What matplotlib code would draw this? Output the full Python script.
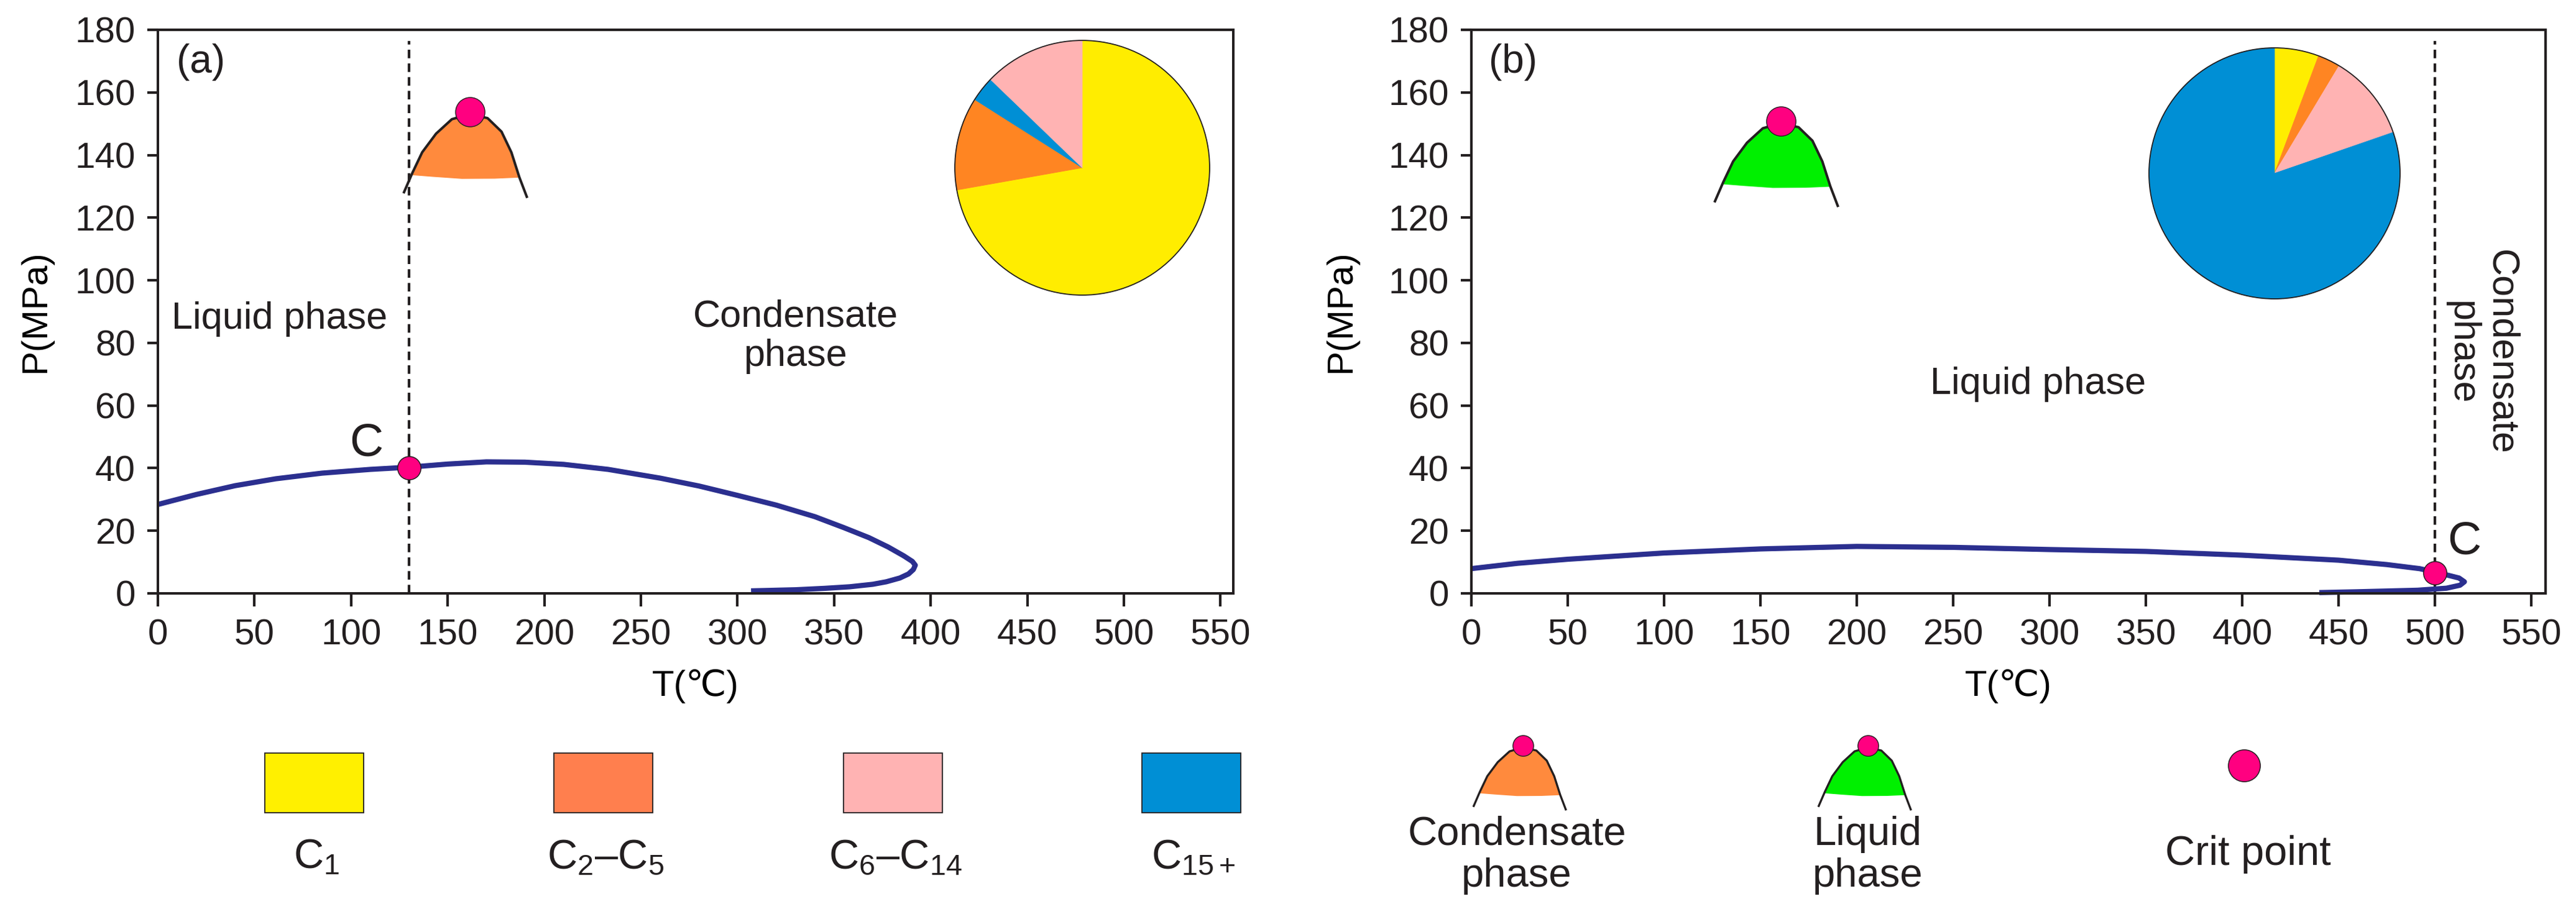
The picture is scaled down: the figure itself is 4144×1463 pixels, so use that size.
import matplotlib.pyplot as plt
import matplotlib.transforms as mtransforms
from matplotlib.patches import Rectangle, Circle

# ---- data ----
# (a) phase envelope, temperature (degC) / pressure (MPa)
T_a = [0, 20, 40, 61, 85, 110, 130, 150, 170, 190, 210, 233, 260, 280, 300, 320,
       340, 355, 368, 378, 386, 390.5, 392, 391, 388.5, 384, 377, 370, 358, 345, 330, 307]
P_a = [28.4, 31.6, 34.4, 36.6, 38.4, 39.6, 40.3, 41.3, 42.0, 41.9, 41.2, 39.6, 36.8, 34.3, 31.3, 28.2,
       24.5, 21.0, 17.8, 14.8, 12.0, 10.2, 9.0, 7.6, 6.2, 4.9, 3.7, 2.9, 2.1, 1.6, 1.15, 0.8]
crit_a = (130, 40)

# (b) phase envelope
T_b = [0, 24, 50, 100, 150, 200, 250, 300, 350, 400, 450, 475, 492, 500, 506.7, 512.5,
       515.3, 513, 506, 491, 459, 440]
P_b = [7.9, 9.6, 10.9, 12.9, 14.2, 15.0, 14.7, 14.0, 13.4, 12.2, 10.6, 9.2, 7.9, 6.8, 5.8, 4.9,
       3.7, 2.6, 1.65, 1.0, 0.5, 0.25]
crit_b = (500, 6.6)

boundary_a = 130
boundary_b = 500
boundary_top = 176.5

components = ['C$_1$', 'C$_2$–C$_5$', 'C$_6$–C$_{14}$', 'C$_{15+}$']
frac_a = [72.2, 11.8, 12.8, 3.2]   # C1, C2-C5, C6-C14, C15+ (%)
frac_b = [5.7, 2.9, 11.1, 80.3]
order_a = [0, 1, 3, 2]             # clockwise from 12 o'clock
order_b = [0, 1, 2, 3]

x_ticks = list(range(0, 551, 50))
y_ticks = list(range(0, 181, 20))

# ---- styles ----
W, H, DPI = 4144, 1463, 100
DARK = '#231F20'
NAVY = '#2B2F8F'
MAGENTA = '#FF0080'
pie_colors = ['#FFED00', '#FF8522', '#FFB3B3', '#008FD5']
swatch_colors = ['#FFF000', '#FF7F4E', '#FFB3B3', '#008FD5']
DOME_ORANGE = '#FF8A3D'
DOME_GREEN = '#00F000'

# dome icon outline, pixel offsets from its apex (y grows downward)
DOME_X = [-106.5, -92.4, -76.5, -54.2, -28.7, 0, 28.7, 51.1, 67.0, 79.8, 92.5]
DOME_Y = [127.6, 95.0, 61.6, 31.6, 8.3, 0, 6.6, 28.3, 61.6, 101.6, 135.0]
FILL_X = [-93.8, -76.5, -54.2, -28.7, 0, 28.7, 51.1, 67.0, 80.1, 40, -12.7, -60]
FILL_Y = [98.3, 61.6, 31.6, 8.3, 0, 6.6, 28.3, 61.6, 102.3, 104, 104.3, 101]

plt.rcParams['font.family'] = ['Liberation Sans', 'DejaVu Sans']
plt.rcParams['mathtext.fontset'] = 'custom'
plt.rcParams['mathtext.rm'] = 'Liberation Sans'
plt.rcParams['mathtext.it'] = 'Liberation Sans:italic'
plt.rcParams['mathtext.bf'] = 'Liberation Sans:bold'
plt.rcParams['text.color'] = DARK


def style_axes(ax, xmax, ylabel_x):
    ax.set_xlim(0, xmax)
    ax.set_ylim(0, 180)
    ax.set_autoscale_on(False)
    ax.set_xticks(x_ticks)
    ax.set_yticks(y_ticks)
    for s in ax.spines.values():
        s.set_linewidth(2.9)
        s.set_color(DARK)
    ax.tick_params(direction='out', width=3, color=DARK, labelsize=42,
                   labelcolor=DARK, pad=14)
    ax.tick_params(axis='x', length=15)
    ax.tick_params(axis='y', length=12)
    ax.set_xlabel('T(℃)', fontsize=42)
    ax.xaxis.set_label_coords(0.5, -0.134)
    ax.set_ylabel('P(MPa)', fontsize=42)
    ax.yaxis.set_label_coords(ylabel_x, 0.5)


def place(ax, anchor, scale):
    x0, y0 = ax.transData.transform(anchor)
    return mtransforms.Affine2D().scale(scale, -scale).translate(x0, y0)


def draw_dome(ax, apex, scale, color, lw, ms):
    tr = place(ax, apex, scale)
    ax.fill(FILL_X, FILL_Y, color=color, lw=0, transform=tr, zorder=3)
    ax.plot(DOME_X, DOME_Y, color=DARK, lw=lw, transform=tr, zorder=4,
            solid_joinstyle='round', solid_capstyle='butt')
    ax.plot([0], [-3.5], 'o', ms=ms, mfc=MAGENTA, mec=DARK, mew=1.0,
            transform=tr, zorder=5)


def draw_pie(rect, values, order):
    pax = fig.add_axes(rect, zorder=5)
    wedges, _ = pax.pie([values[i] for i in order],
                        colors=[pie_colors[i] for i in order],
                        startangle=90, counterclock=False, radius=1)
    for w in wedges:
        w.set_edgecolor(w.get_facecolor())
        w.set_linewidth(0.6)
    pax.add_patch(Circle((0, 0), 1, fill=False, ec=DARK, lw=1.3, zorder=3))
    pax.set_xlim(-1.01, 1.01)
    pax.set_ylim(-1.01, 1.01)
    pax.set_aspect('equal')
    pax.axis('off')


def envelope(ax, T, P, crit, boundary):
    ax.plot([boundary, boundary], [0, boundary_top], color=DARK, lw=3,
            dashes=(3.3, 2.0), zorder=1)
    ax.plot(T, P, color=NAVY, lw=6.0, solid_joinstyle='round',
            solid_capstyle='butt', zorder=2, clip_on=False)
    ax.plot([crit[0]], [crit[1]], 'o', ms=27, mfc=MAGENTA, mec=DARK,
            mew=1.1, zorder=6, clip_on=False)


fig = plt.figure(figsize=(W / DPI, H / DPI), dpi=DPI)

# ---- panel (a) ----
ax_a = fig.add_axes([254 / W, 1 - 955 / H, 1730 / W, 907 / H])
style_axes(ax_a, 556.6, -0.098)
envelope(ax_a, T_a, P_a, crit_a, boundary_a)
draw_dome(ax_a, (161.4, 153.1), 1.0, DOME_ORANGE, 2.9, 34)
ax_a.text(22.2, 169.7, '(a)', fontsize=46, ha='center', va='center')
ax_a.text(63, 84.6, 'Liquid phase', fontsize=44, ha='center', va='baseline')
ax_a.text(330, 72.6, 'Condensate\nphase', fontsize=44, ha='center',
          va='baseline', multialignment='center', linespacing=1.15)
ax_a.text(107.8, 47.9, 'C', fontsize=54, ha='center', va='center')
draw_pie([1534 / W, 1 - 477 / H, 414 / W, 414 / H], frac_a, order_a)

# ---- panel (b) ----
ax_b = fig.add_axes([2367 / W, 1 - 955 / H, 1728 / W, 907 / H])
style_axes(ax_b, 557.4, -0.106)
envelope(ax_b, T_b, P_b, crit_b, boundary_b)
draw_dome(ax_b, (160.5, 150.2), 1.0, DOME_GREEN, 2.9, 34)
ax_b.text(21.6, 169.7, '(b)', fontsize=46, ha='center', va='center')
ax_b.text(238, 63.8, 'Liquid phase', fontsize=44, ha='left', va='baseline')
ax_b.text(523.9, 77.0, 'Condensate\nphase', fontsize=44, ha='center',
          va='center', multialignment='center', rotation=270, linespacing=1.15)
ax_b.text(515.2, 16.4, 'C', fontsize=54, ha='center', va='center')
draw_pie([3455 / W, 1 - 483 / H, 408 / W, 408 / H], frac_b, order_b)

# ---- legend row (figure pixel coordinates) ----
leg = fig.add_axes([0, 0, 1, 1], zorder=-1)
leg.set_xlim(0, W)
leg.set_ylim(H, 0)
leg.set_autoscale_on(False)
leg.axis('off')

swatch_x = [505, 970, 1436, 1916]
for x, c, lab in zip(swatch_x, swatch_colors, components):
    leg.add_patch(Rectangle((x - 79.5, 1212), 159, 96, fc=c, ec=DARK, lw=1.3))
    leg.text(x + 4, 1397, lab, fontsize=48, ha='center', va='baseline')

draw_dome(leg, (2450, 1203), 0.75, DOME_ORANGE, 2.4, 24)
leg.text(2440, 1427, 'Condensate\nphase', fontsize=47, ha='center',
         va='baseline', multialignment='center', linespacing=1.15)
draw_dome(leg, (3005, 1203), 0.75, DOME_GREEN, 2.4, 24)
leg.text(3005, 1427, 'Liquid\nphase', fontsize=47, ha='center',
         va='baseline', multialignment='center', linespacing=1.15)
leg.plot([3610], [1232], 'o', ms=37, mfc=MAGENTA, mec=DARK, mew=1.1)
leg.text(3616, 1392, 'Crit point', fontsize=48, ha='center', va='baseline')

fig.savefig('out.png', dpi=DPI)
